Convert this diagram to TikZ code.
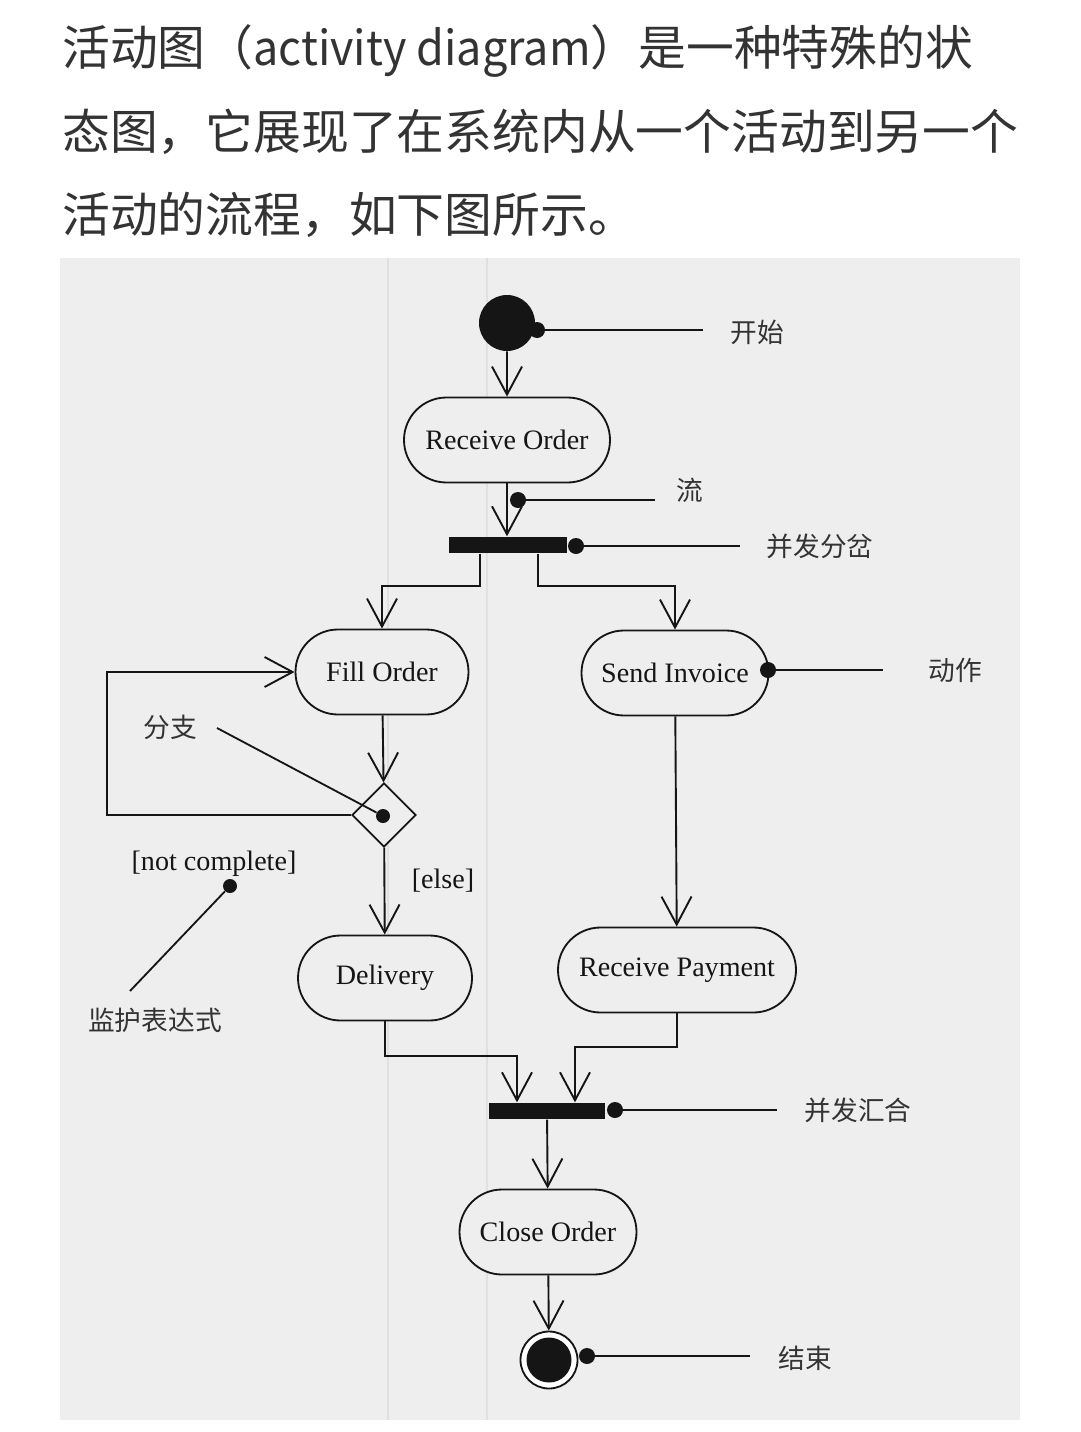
\documentclass[tikz,border=0pt]{standalone}
\usepackage{fontspec}
\setmainfont{Liberation Serif}
\newfontfamily\cjk{Noto Sans CJK SC}
\usetikzlibrary{arrows.meta,shapes.geometric,shapes.misc}
\definecolor{scan}{HTML}{EEEEEE}
\definecolor{ink}{HTML}{151515}
\definecolor{para}{HTML}{333333}
\tikzset{my action/.style={draw=ink, line width=1.3pt, rounded rectangle, fill=scan, inner sep=0pt, minimum height=21.25mm, text=ink, font=\fontsize{20}{24}\selectfont},
my bar/.style={fill=ink, rectangle, inner sep=0pt, minimum width=29.5mm, minimum height=4.2mm},
my start/.style={fill=ink, circle, inner sep=0pt, minimum size=14mm},
my end/.style={draw=ink, line width=1.3pt, circle, fill=white, inner sep=0pt, minimum size=14.25mm},
my branch/.style={draw=ink, line width=1.3pt, diamond, fill=scan, inner sep=0pt, minimum width=16mm, minimum height=16mm},
my dot/.style={fill=ink, circle, inner sep=0pt, minimum size=4mm},
my note/.style={text=para, inner sep=0pt, font=\cjk\fontsize{19}{22}\selectfont},
my guard/.style={text=ink, inner sep=0pt, font=\fontsize{20}{24}\selectfont},
my para/.style={anchor=base west, inner sep=0pt, text=para, font=\cjk\fontsize{34}{40}\selectfont},
my flow/.style={draw=ink, line width=1.35pt, -{Straight Barb[length=7mm,width=7.5mm]}},
my leader/.style={draw=ink, line width=1.3pt},}

\begin{document}
\begin{tikzpicture}[x=0.25mm,y=-0.25mm]
\useasboundingbox[fill=white] (0,0) rectangle (1080,1432);
\fill[scan] (60,258) rectangle (1020,1420);
\draw[black!12, line width=1pt] (388,258) -- (388,1420);
\draw[black!12, line width=1pt] (487,258) -- (487,1420);

\node[my para] (para1) at (62,65) {活动图（\scalebox{0.94}[1]{activity diagram}）是一种特殊的状};
\node[my para] (para2) at (62,149) {态图，它展现了在系统内从一个活动到另一个};
\node[my para] (para3) at (62,232) {活动的流程，如下图所示。};

\node[my start] (start) at (507,323) {};
\node[my action, minimum width=51.5mm] (receive) at (507,440) {Receive Order};
\node[my bar] (fork) at (508,545) {};
\node[my action, minimum width=43.25mm] (fill) at (382,672) {Fill Order};
\node[my action, minimum width=46.75mm] (send) at (675,673) {Send Invoice};
\node[my branch] (branch) at (384,815) {};
\node[my action, minimum width=43.5mm] (delivery) at (385,978) {Delivery};
\node[my action, minimum width=59.5mm] (payment) at (677,970) {Receive Payment};
\node[my bar, minimum width=29mm] (join) at (547,1111) {};
\node[my action, minimum width=44.25mm] (close) at (548,1232) {Close Order};
\node[my end] (end) at (549,1360) {};
\node[my start, minimum size=11.25mm] (endcore) at (549,1360) {};

\draw[my flow] (start) -- (receive);
\draw[my flow] (receive.south) -- (receive.south |- fork.north);
\draw[my flow] ([xshift=-7.1mm]fork.south) -- ++(0,32) -| (fill);
\draw[my flow] ([xshift=7.4mm]fork.south) -- ++(0,32) -| (send);
\draw[my flow] (fill) -- (branch);
\draw[my flow] (branch.west) -- ++(-244,0) |- (fill);
\draw[my flow] (branch) -- (delivery);
\draw[my flow] (send) -- (payment);
\draw[my flow] (delivery.south) -- ++(0,35) -| ([xshift=-7.5mm]join.north);
\draw[my flow] (payment.south) -- ++(0,34) -| ([xshift=7mm]join.north);
\draw[my flow] (join) -- (close);
\draw[my flow] (close) -- (end);

\node[my dot] (startdot) at (537,330) {};
\node[my dot] (flowdot) at (518,500) {};
\node[my dot] (forkdot) at (576,546) {};
\node[my dot] (senddot) at (768,670) {};
\node[my dot, minimum size=3.5mm] (branchdot) at (383,816) {};
\node[my dot, minimum size=3.5mm] (guarddot) at (230,886) {};
\node[my dot] (joindot) at (615,1110) {};
\node[my dot] (enddot) at (587,1356) {};

\coordinate (startleader) at (703,330);
\coordinate (flowleader) at (655,500);
\coordinate (forkleader) at (740,546);
\coordinate (sendleader) at (883,670);
\coordinate (branchleader) at (217,728);
\coordinate (guardleader) at (130,991);
\coordinate (joinleader) at (777,1110);
\coordinate (endleader) at (750,1356);

\draw[my leader] (startdot) -- (startleader);
\draw[my leader] (flowdot) -- (flowleader);
\draw[my leader] (forkdot) -- (forkleader);
\draw[my leader] (senddot) -- (sendleader);
\draw[my leader] (branchdot) -- (branchleader);
\draw[my leader] (guarddot) -- (guardleader);
\draw[my leader] (joindot) -- (joinleader);
\draw[my leader] (enddot) -- (endleader);

\node[my note] (startlbl) at (757,332) {开始};
\node[my note] (flowlbl) at (690,490) {流};
\node[my note] (forklbl) at (820,546) {并发分岔};
\node[my note] (sendlbl) at (955,670) {动作};
\node[my note] (branchlbl) at (170,727) {分支};
\node[my guard] (guardlbl) at (214,864) {[not complete]};
\node[my note] (guardnote) at (155,1020) {监护表达式};
\node[my guard] (elselbl) at (443,881) {[else]};
\node[my note] (joinlbl) at (858,1110) {并发汇合};
\node[my note] (endlbl) at (805,1358) {结束};
\end{tikzpicture}
\end{document}
